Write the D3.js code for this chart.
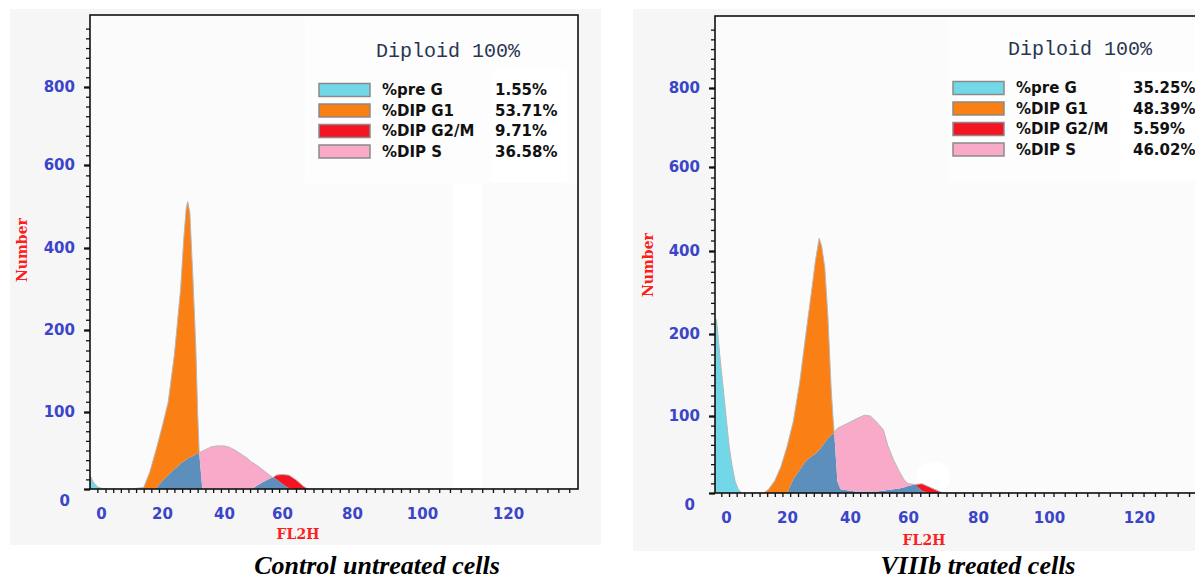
<!DOCTYPE html>
<html>
<head>
<meta charset="utf-8">
<script src="https://cdn.jsdelivr.net/npm/d3@7"></script>
<style>
  body { margin: 0; background: #fff; }
  svg { display: block; }
</style>
</head>
<body>
<svg width="1195" height="580"></svg>
<script>
// axis ticks and legend text
let yTicks = [0, 100, 200, 400, 600, 800];
let xTicks = [0, 20, 40, 60, 80, 100, 120];
let phaseNames = ['%pre G', '%DIP G1', '%DIP G2/M', '%DIP S'];
let leftPercents = ['1.55%', '53.71%', '9.71%', '36.58%'];
let rightPercents = ['35.25%', '48.39%', '5.59%', '46.02%'];

// control untreated cells (FL2H channel -> counts per layer)
let leftChannels = [-3, -2, -1, 0, 2, 10, 14, 16, 18, 20, 22, 24, 25, 26, 27, 27.8, 28.3, 29, 30, 30.9,
  31.5, 32, 33, 34, 36, 38, 40, 42, 44, 46, 48, 49.5, 50, 52, 54, 56, 57, 58, 60, 62, 64, 66, 67, 68, 80, 100, 120, 136];
let leftPreG = [18, 8, 3, 1, 0, 0, 0, 0, 0, 0, 0, 0, 0, 0, 0, 0, 0, 0, 0, 0,
  0, 0, 0, 0, 0, 0, 0, 0, 0, 0, 0, 0, 0, 0, 0, 0, 0, 0, 0, 0, 0, 0, 0, 0, 0, 0, 0, 0];
let leftSBlue = [0, 0, 0, 0, 0, 0, 0, 0, 1, 10, 18, 26, 29, 33, 36, 38, 40, 41, 43, 45,
  46, 47, 0, 0, 0, 0, 0, 0, 0, 0, 0, 0, 1, 6, 10, 14, 15, 13, 7, 1, 0, 0, 0, 0, 0, 0, 0, 0];
let leftG1 = [0, 0, 0, 0, 0, 0, 2, 22, 49, 70, 94, 144, 191, 267, 384, 457, 472, 443, 279, 135,
  53, 0, 0, 0, 0, 0, 0, 0, 0, 0, 0, 0, 0, 0, 0, 0, 0, 0, 0, 0, 0, 0, 0, 0, 0, 0, 0, 0];
let leftSPink = [0, 0, 0, 0, 0, 0, 0, 0, 0, 0, 0, 0, 0, 0, 0, 0, 0, 0, 0, 0,
  0, 0, 49, 51, 55, 56, 56, 54, 50, 45, 40, 35, 33, 23, 13, 3, 0, 0, 0, 0, 0, 0, 0, 0, 0, 0, 0, 0];
let leftG2 = [0, 0, 0, 0, 0, 0, 0, 0, 0, 0, 0, 0, 0, 0, 0, 0, 0, 0, 0, 0,
  0, 0, 0, 0, 0, 0, 0, 0, 0, 0, 0, 0, 0, 0, 0, 0, 0, 5, 12, 17, 12, 4, 1, 0, 0, 0, 0, 0];

// VIIIb treated cells
let rightChannels = [-3.5, -3, -2, -1, 0, 1, 2, 3, 4, 5.2, 8, 12.4, 14, 16, 18, 20, 22, 24, 26, 28,
  29, 30.2, 31, 32, 33, 34, 34.6, 35, 36, 37, 40, 42, 45, 47, 49, 51.5, 53, 55, 57, 58.5,
  60, 62, 64, 66, 68, 70, 80, 100, 120, 140];
let rightPreG = [238, 234, 175, 138, 100, 62, 35, 15, 5, 0, 0, 0, 0, 0, 0, 0, 0, 0, 0, 0,
  0, 0, 0, 0, 0, 0, 0, 0, 0, 0, 0, 0, 0, 0, 0, 0, 0, 0, 0, 0, 0, 0, 0, 0, 0, 0, 0, 0, 0, 0];
let rightSBlue = [0, 0, 0, 0, 0, 0, 0, 0, 0, 0, 0, 0, 0, 0, 0, 0, 18, 30, 42, 48,
  51, 56, 60, 66, 71, 75, 77, 78, 15, 5, 3, 2, 2, 2, 2, 3, 4, 5, 6, 7,
  9, 11, 3, 0, 0, 0, 0, 0, 0, 0];
let rightG1 = [0, 0, 0, 0, 0, 0, 0, 0, 0, 0, 0, 0, 5, 16, 34, 60, 75, 110, 158, 267,
  324, 374, 352, 294, 169, 60, 21, 0, 0, 0, 0, 0, 0, 0, 0, 0, 0, 0, 0, 0,
  0, 0, 0, 0, 0, 0, 0, 0, 0, 0];
let rightSPink = [0, 0, 0, 0, 0, 0, 0, 0, 0, 0, 0, 0, 0, 0, 0, 0, 0, 0, 0, 0,
  0, 0, 0, 0, 0, 0, 0, 0, 69, 81, 89, 94, 99, 98, 91, 79, 58, 38, 22, 11,
  3, 0, 0, 0, 0, 0, 0, 0, 0, 0];
let rightG2 = [0, 0, 0, 0, 0, 0, 0, 0, 0, 0, 0, 0, 0, 0, 0, 0, 0, 0, 0, 0,
  0, 0, 0, 0, 0, 0, 0, 0, 0, 0, 0, 0, 0, 0, 0, 0, 0, 0, 0, 0,
  0, 0, 9, 8, 4, 0, 0, 0, 0, 0];

let layerKeys = ['preG', 'sBlue', 'sPink', 'g1', 'g2'];
let layerColors = {preG: '#72d7e6', sBlue: '#5d8fbd', sPink: '#f9aac9', g1: '#fa7f15', g2: '#f51522'};
let swatchColors = ['#72d7e6', '#fa7f15', '#f51522', '#f9aac9'];

let svg = d3.select('svg');
let tickBlue = '#3a45c8';

function drawPanel(p) {
    let g = svg.append('g');

    g.append('rect')
        .attr('x', p.bg[0]).attr('y', p.bg[1])
        .attr('width', p.bg[2]).attr('height', p.bg[3])
        .attr('fill', '#f6f6f6');

    let x = d3.scaleLinear().domain(p.xDomain).range(p.xRange);
    let y = d3.scaleLinear().domain(p.yDomain).range(p.yRange);

    let x0 = p.xRange[0], x1 = p.xRange[p.xRange.length - 1];
    let yTop = y(p.yDomain[p.yDomain.length - 1]), yBase = y(0);

    g.append('clipPath').attr('id', p.id + '-clip')
        .append('rect').attr('x', x0).attr('y', yTop)
        .attr('width', x1 - x0).attr('height', yBase - yTop);

    g.append('rect')
        .attr('x', x0).attr('y', yTop)
        .attr('width', x1 - x0).attr('height', yBase - yTop)
        .attr('fill', '#fbfbfb');

    let plot = g.append('g').attr('clip-path', `url(#${p.id}-clip)`);

    // scan artefacts (white patches) seen on the original figure
    p.patches.forEach(function (c) {
        plot.append('rect')
            .attr('x', x(c[0])).attr('y', y(c[3]))
            .attr('width', x(c[1]) - x(c[0])).attr('height', y(c[2]) - y(c[3]))
            .attr('rx', c[4]).attr('fill', '#fff');
    });

    let rows = p.channels.map((c, i) => ({
        ch: c, preG: p.preG[i], sBlue: p.sBlue[i], sPink: p.sPink[i], g1: p.g1[i], g2: p.g2[i]
    }));
    let series = d3.stack().keys(layerKeys)(rows);

    let area = d3.area()
        .x(d => x(d.data.ch))
        .y0(d => y(d[0]))
        .y1(d => y(d[1]));

    plot.selectAll('path.layer').data(series).enter().append('path')
        .attr('class', 'layer')
        .attr('fill', d => layerColors[d.key])
        .attr('d', area);

    let outline = d3.line()
        .x(d => x(d.ch))
        .y(d => y(d.preG + d.sBlue + d.sPink + d.g1 + d.g2));

    plot.append('path').datum(rows)
        .attr('fill', 'none')
        .attr('stroke', '#b8b8b8')
        .attr('stroke-width', 1)
        .attr('d', outline);

    // frame
    g.append('rect')
        .attr('x', x0).attr('y', yTop)
        .attr('width', x1 - x0).attr('height', yBase - yTop)
        .attr('fill', 'none').attr('stroke', '#111').attr('stroke-width', 1.6);

    // minor ticks
    let minorY = d3.range(0, 200, 12.5).concat(d3.range(200, 975, 25));
    let minorX = d3.range(p.xDomain[0] + 2, p.xDomain[p.xDomain.length - 1], 2.5);

    g.append('g').attr('class', 'minor')
        .attr('transform', `translate(${x0},0)`)
        .call(d3.axisLeft(y).tickValues(minorY).tickSize(4).tickFormat(''));
    g.append('g').attr('class', 'minor')
        .attr('transform', `translate(0,${yBase})`)
        .call(d3.axisBottom(x).tickValues(minorX).tickSize(4).tickFormat(''));

    // labelled ticks
    let yAxis = g.append('g')
        .attr('transform', `translate(${x0},0)`)
        .call(d3.axisLeft(y).tickValues(yTicks).tickSize(6).tickPadding(9));
    yAxis.selectAll('text').filter(d => d === 0).attr('transform', 'translate(-5,12)');

    let xAxis = g.append('g')
        .attr('transform', `translate(0,${yBase})`)
        .call(d3.axisBottom(x).tickValues(xTicks).tickSize(0).tickPadding(19));

    g.selectAll('.domain').remove();
    g.selectAll('.tick line').attr('stroke', '#111').attr('stroke-width', 1.3);
    yAxis.selectAll('.tick line').attr('stroke-width', 2.2);
    g.selectAll('.tick text')
        .attr('fill', tickBlue)
        .style('font', 'bold 15px "DejaVu Sans", Verdana, sans-serif');

    // axis titles
    g.append('text')
        .attr('transform', `translate(${p.numberPos[0]},${p.numberPos[1]}) rotate(-90)`)
        .attr('text-anchor', 'middle').attr('dy', '0.35em')
        .attr('fill', '#ff1d1d')
        .style('font', 'bold 14px "DejaVu Serif", serif')
        .text('Number');

    g.append('text')
        .attr('x', p.fl2hPos[0]).attr('y', p.fl2hPos[1])
        .attr('text-anchor', 'middle').attr('dy', '0.35em')
        .attr('fill', '#ff1d1d')
        .style('font', 'bold 14px "DejaVu Serif", serif')
        .text('FL2H');

    // legend
    let lg = p.legend;
    g.append('rect')
        .attr('x', lg.box[0]).attr('y', lg.box[1])
        .attr('width', lg.box[2]).attr('height', lg.box[3])
        .attr('fill', '#fdfdfd');
    g.append('rect')
        .attr('x', lg.valBox[0]).attr('y', lg.valBox[1])
        .attr('width', lg.valBox[2]).attr('height', lg.valBox[3])
        .attr('fill', '#fff');

    g.append('text')
        .attr('x', lg.title[0]).attr('y', lg.title[1])
        .attr('text-anchor', 'middle').attr('dy', '0.35em')
        .attr('fill', '#2b3552')
        .style('font', '20px "Liberation Mono", "Courier New", monospace')
        .text('Diploid 100%');

    let rowsG = g.selectAll('g.lrow').data(phaseNames).enter().append('g')
        .attr('class', 'lrow')
        .attr('transform', (d, i) => `translate(0,${lg.rowY[i]})`);

    rowsG.append('rect')
        .attr('x', lg.swatchX).attr('y', -6.5)
        .attr('width', 51).attr('height', 13)
        .attr('fill', (d, i) => swatchColors[i])
        .attr('stroke', '#8a8a8a').attr('stroke-width', 1.5);

    rowsG.append('text')
        .attr('x', lg.labelX).attr('dy', '0.35em')
        .attr('fill', '#111')
        .style('font', 'bold 15px "DejaVu Sans", Tahoma, sans-serif')
        .text(d => d);

    rowsG.append('text')
        .attr('x', lg.valueX).attr('dy', '0.35em')
        .attr('fill', '#111')
        .style('font', 'bold 15px "DejaVu Sans", Tahoma, sans-serif')
        .text((d, i) => p.percents[i]);

    // caption
    svg.append('text')
        .attr('x', p.caption[0]).attr('y', p.caption[1])
        .attr('text-anchor', 'middle')
        .attr('fill', '#000')
        .style('font', 'italic bold 26px "Liberation Serif", "Times New Roman", serif')
        .text(p.captionText);
}

drawPanel({
    id: 'left',
    bg: [10, 9, 591, 536],
    xDomain: [-3, 0, 20, 40, 60, 80, 100, 120, 136],
    xRange: [90, 101, 162, 224, 282, 352, 422, 508, 578],
    yDomain: [0, 100, 200, 400, 600, 800, 985],
    yRange: [489, 412, 330, 248, 165, 87, 15],
    channels: leftChannels, preG: leftPreG, sBlue: leftSBlue, sPink: leftSPink, g1: leftG1, g2: leftG2,
    patches: [[107.3, 114, 0, 557, 0]],
    numberPos: [22, 250],
    fl2hPos: [298, 534],
    percents: leftPercents,
    legend: {
        box: [305, 17, 272, 166], valBox: [492, 70, 75, 112],
        title: [448, 50], rowY: [90, 110.5, 131, 151.5],
        swatchX: 319, labelX: 382, valueX: 495
    },
    caption: [377, 574],
    captionText: 'Control untreated cells'
});

drawPanel({
    id: 'right',
    bg: [633, 9, 562, 542],
    xDomain: [-3.5, 0, 20, 40, 60, 80, 100, 120, 140],
    xRange: [715, 726, 787, 850, 908, 978, 1049, 1139, 1230],
    yDomain: [0, 100, 200, 400, 600, 800, 985],
    yRange: [493, 416, 334, 251, 167, 88, 16],
    channels: rightChannels, preG: rightPreG, sBlue: rightSBlue, sPink: rightSPink, g1: rightG1, g2: rightG2,
    patches: [[62.5, 72, 0, 40, 14]],
    numberPos: [648, 265],
    fl2hPos: [924, 540],
    percents: rightPercents,
    legend: {
        box: [948, 18, 247, 164], valBox: [1120, 72, 75, 108],
        title: [1080, 48], rowY: [88, 108.5, 129, 149.5],
        swatchX: 953, labelX: 1016, valueX: 1133
    },
    caption: [978, 574],
    captionText: 'VIIIb treated cells'
});
</script>
</body>
</html>
